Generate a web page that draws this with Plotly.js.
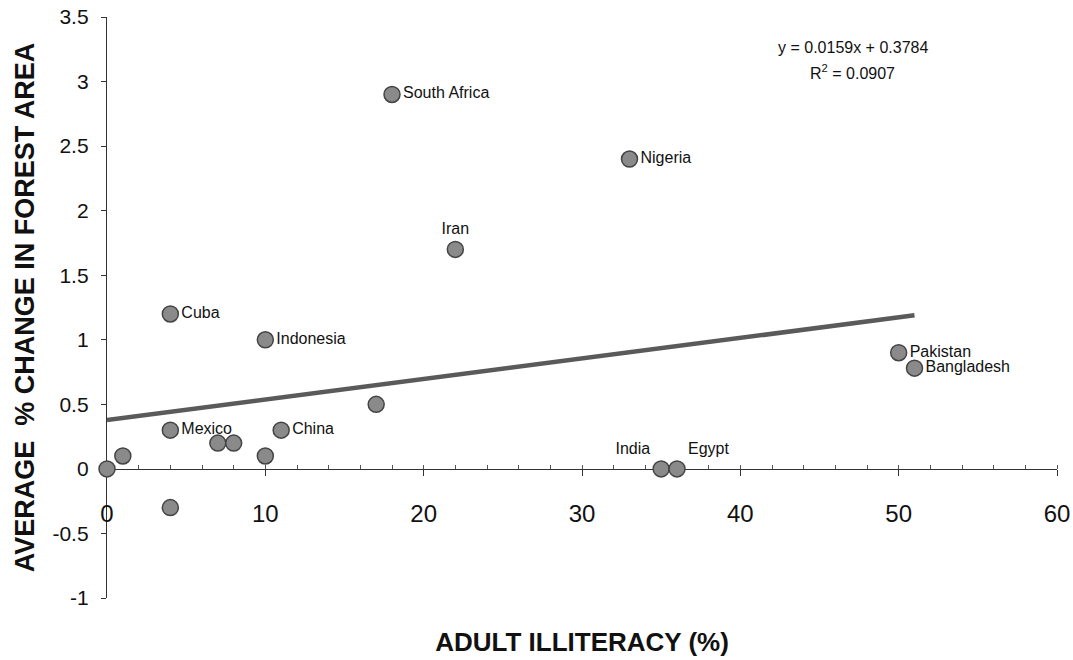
<!DOCTYPE html>
<html>
<head>
<meta charset="utf-8">
<script src="https://cdn.plot.ly/plotly-3.0.1.min.js"></script>
<style>
  html, body { margin: 0; padding: 0; background: #fff; }
  #chart { width: 1073px; height: 660px; }
</style>
</head>
<body>
<div id="chart"></div>
<script>
// ---- data ----
const countries = ['', '', 'Mexico', '', '', '', 'China', '', 'Cuba', 'Indonesia', '', 'Iran',
                   'South Africa', 'Nigeria', 'India', 'Egypt', 'Pakistan', 'Bangladesh'];
const illiteracy = [0, 1, 4, 7, 8, 10, 11, 4, 4, 10, 17, 22, 18, 33, 35, 36, 50, 51];
const forestChange = [0, 0.1, 0.3, 0.2, 0.2, 0.1, 0.3, -0.3, 1.2, 1.0, 0.5, 1.7, 2.9, 2.4, 0, 0, 0.9, 0.78];

// trend line as printed on the chart: y = 0.0159x + 0.3784, drawn from x = 0 to x = 51
const slope = 0.0159;
const intercept = 0.3784;
const rSquared = 0.0907;
const trendX = [0, 51];
const trendY = [0.3784, 1.1893];

const xTickVals = [0, 10, 20, 30, 40, 50, 60];
const xTickText = ['0', '10', '20', '30', '40', '50', '60'];
const yTickVals = [-1, -0.5, 0, 0.5, 1, 1.5, 2, 2.5, 3, 3.5];
const yTickText = ['-1', '-0.5', '0', '0.5', '1', '1.5', '2', '2.5', '3', '3.5'];

// label placement around each marker
const labelPositions = ['middle right', 'middle right', 'middle right', 'middle right', 'middle right',
  'middle right', 'middle right', 'middle right', 'middle right', 'middle right', 'middle right',
  'top center', 'middle right', 'middle right', 'top left', 'top right', 'middle right', 'middle right'];

const FONT = '"Liberation Sans", Arial, Helvetica, sans-serif';

const traces = [
  {
    type: 'scatter', mode: 'lines',
    x: trendX, y: trendY,
    line: { color: '#5a5a5a', width: 4.5 },
    hoverinfo: 'skip', showlegend: false
  },
  {
    type: 'scatter', mode: 'markers+text',
    x: illiteracy, y: forestChange,
    text: countries, textposition: labelPositions,
    textfont: { family: FONT, size: 16, color: '#111' },
    marker: { size: 16, color: '#8a8a8a', line: { color: '#444', width: 1.5 } },
    cliponaxis: false, showlegend: false
  }
];

const layout = {
  width: 1073, height: 660,
  margin: { l: 107, r: 16, t: 17, b: 62 },
  paper_bgcolor: '#fff', plot_bgcolor: '#fff',
  font: { family: FONT, color: '#111' },
  showlegend: false,
  xaxis: {
    range: [0, 60],
    anchor: 'free', position: 1 / 4.5,
    tickvals: xTickVals, ticktext: xTickText,
    ticks: 'outside', ticklen: 6, tickcolor: '#333',
    minor: { dtick: 2, ticks: 'inside', ticklen: 4, tickcolor: '#555' },
    showline: true, linecolor: '#333', linewidth: 1.5,
    showgrid: false, zeroline: false,
    tickfont: { family: FONT, size: 24, color: '#111' },
    ticklabelstandoff: 17,
    layer: 'below traces',
    title: { text: 'ADULT ILLITERACY (%)', font: { family: FONT, size: 26, color: '#111', weight: 'bold' }, standoff: 106 }
  },
  yaxis: {
    range: [-1, 3.5],
    tickvals: yTickVals, ticktext: yTickText,
    ticks: 'outside', ticklen: 5, tickcolor: '#333',
    showline: true, linecolor: '#333', linewidth: 1.2,
    showgrid: false, zeroline: false,
    tickfont: { family: FONT, size: 21, color: '#111' },
    ticklabelstandoff: 8,
    layer: 'below traces',
    title: { text: 'AVERAGE &nbsp;% CHANGE IN FOREST AREA', font: { family: FONT, size: 27, color: '#111', weight: 'bold' }, standoff: 10 }
  },
  annotations: [
    {
      xref: 'paper', yref: 'paper',
      x: (853 - 107) / 950, y: (598 - 47) / 581,
      text: 'y = ' + slope + 'x + ' + intercept,
      showarrow: false, xanchor: 'center', yanchor: 'middle',
      font: { family: FONT, size: 16, color: '#111' }
    },
    {
      xref: 'paper', yref: 'paper',
      x: (852 - 107) / 950, y: (598 - 72) / 581,
      text: 'R<sup>2</sup> = ' + rSquared,
      showarrow: false, xanchor: 'center', yanchor: 'middle',
      font: { family: FONT, size: 16, color: '#111' }
    }
  ]
};

Plotly.newPlot('chart', traces, layout, { displayModeBar: false, staticPlot: true });
</script>
</body>
</html>
